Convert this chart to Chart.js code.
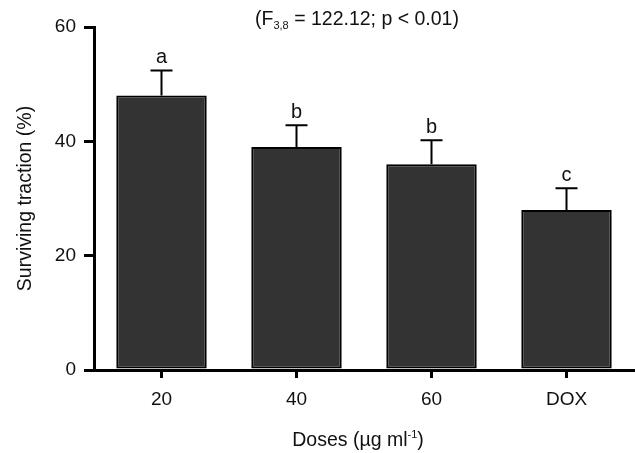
<!DOCTYPE html>
<html>
<head>
<meta charset="utf-8">
<script src="https://cdn.jsdelivr.net/npm/chart.js@4.4.1/dist/chart.umd.min.js"></script>
<style>
  html, body { margin: 0; padding: 0; background: #fff; }
  #wrap { width: 635px; height: 453px; }
</style>
</head>
<body>
<div id="wrap"><canvas id="dosesChart"></canvas></div>
<script>
// chart data
const doses = ['20', '40', '60', 'DOX'];
const survival = [48, 39, 36, 28];
const errorUp = [4.4, 3.8, 4.2, 3.8];
const groupLetters = ['a', 'b', 'b', 'c'];
const yTicks = [0, 20, 40, 60];

const FONT = '"Liberation Sans", Arial, sans-serif';

// error bars + significance letters
const errorBarPlugin = {
    id: 'errorBars',
    afterDatasetsDraw(chart) {
        const ctx = chart.ctx;
        const yScale = chart.scales.y;
        const meta = chart.getDatasetMeta(0);
        ctx.save();
        ctx.strokeStyle = '#000';
        ctx.lineWidth = 2;
        ctx.fillStyle = '#111';
        ctx.font = '20px ' + FONT;
        ctx.textAlign = 'center';
        ctx.textBaseline = 'alphabetic';
        meta.data.forEach((bar, i) => {
            const top = yScale.getPixelForValue(survival[i] + errorUp[i]);
            ctx.beginPath();
            ctx.moveTo(bar.x, bar.y);
            ctx.lineTo(bar.x, top);
            ctx.moveTo(bar.x - 11, top);
            ctx.lineTo(bar.x + 11, top);
            ctx.stroke();
            ctx.fillText(groupLetters[i], bar.x, top - 7);
        });
        ctx.restore();
    }
};

// title and x axis label (need sub/superscripts)
const textPlugin = {
    id: 'richText',
    afterDraw(chart) {
        const ctx = chart.ctx;
        ctx.save();
        ctx.fillStyle = '#111';
        ctx.textBaseline = 'alphabetic';

        // title
        const big = '19.5px ' + FONT;
        const small = '11px ' + FONT;
        const parts = [
            { t: '(F', f: big, dy: 0 },
            { t: '3,8', f: small, dy: 4 },
            { t: ' = 122.12; p < 0.01)', f: big, dy: 0 }
        ];
        let w = 0;
        parts.forEach(p => { ctx.font = p.f; w += ctx.measureText(p.t).width; });
        let x = 357 - w / 2;
        ctx.textAlign = 'left';
        parts.forEach(p => {
            ctx.font = p.f;
            ctx.fillText(p.t, x, 25 + p.dy);
            x += ctx.measureText(p.t).width;
        });

        // x axis title
        const xparts = [
            { t: 'Doses (\u00b5g ml', f: big, dy: 0 },
            { t: '-1', f: small, dy: -8 },
            { t: ')', f: big, dy: 0 }
        ];
        w = 0;
        xparts.forEach(p => { ctx.font = p.f; w += ctx.measureText(p.t).width; });
        x = 358 - w / 2;
        xparts.forEach(p => {
            ctx.font = p.f;
            ctx.fillText(p.t, x, 446 + p.dy);
            x += ctx.measureText(p.t).width;
        });
        ctx.restore();
    }
};

new Chart(document.getElementById('dosesChart'), {
    type: 'bar',
    data: {
        labels: doses,
        datasets: [{
            data: survival,
            backgroundColor: '#333333',
            borderColor: '#000',
            borderWidth: 2,
            borderSkipped: false,
            barPercentage: 0.67,
            categoryPercentage: 1
        }]
    },
    options: {
        responsive: true,
        maintainAspectRatio: false,
        animation: false,
        layout: {
            padding: { top: 27, right: 1, left: 0, bottom: 0 }
        },
        plugins: {
            legend: { display: false },
            tooltip: { enabled: false }
        },
        scales: {
            x: {
                offset: true,
                grid: {
                    offset: false,
                    drawOnChartArea: false,
                    drawTicks: true,
                    tickLength: 8,
                    lineWidth: 3,
                    color: '#000'
                },
                border: { display: true, width: 3, color: '#000' },
                ticks: {
                    color: '#111',
                    padding: 10,
                    font: { size: 19, family: FONT }
                },
                afterFit(scale) { scale.height = 83; }
            },
            y: {
                min: 0,
                max: 60,
                afterBuildTicks(scale) {
                    scale.ticks = yTicks.map(v => ({ value: v }));
                },
                grid: {
                    drawOnChartArea: false,
                    drawTicks: true,
                    tickLength: 10,
                    lineWidth: 3,
                    color: '#000'
                },
                border: { display: true, width: 3, color: '#000' },
                ticks: {
                    color: '#111',
                    padding: 8,
                    font: { size: 19, family: FONT }
                },
                title: {
                    display: true,
                    text: 'Surviving traction (%)',
                    color: '#111',
                    padding: { top: 14, bottom: 0 },
                    font: { size: 19.5, family: FONT }
                },
                afterFit(scale) { scale.width = 94; }
            }
        }
    },
    plugins: [errorBarPlugin, textPlugin]
});
</script>
</body>
</html>
